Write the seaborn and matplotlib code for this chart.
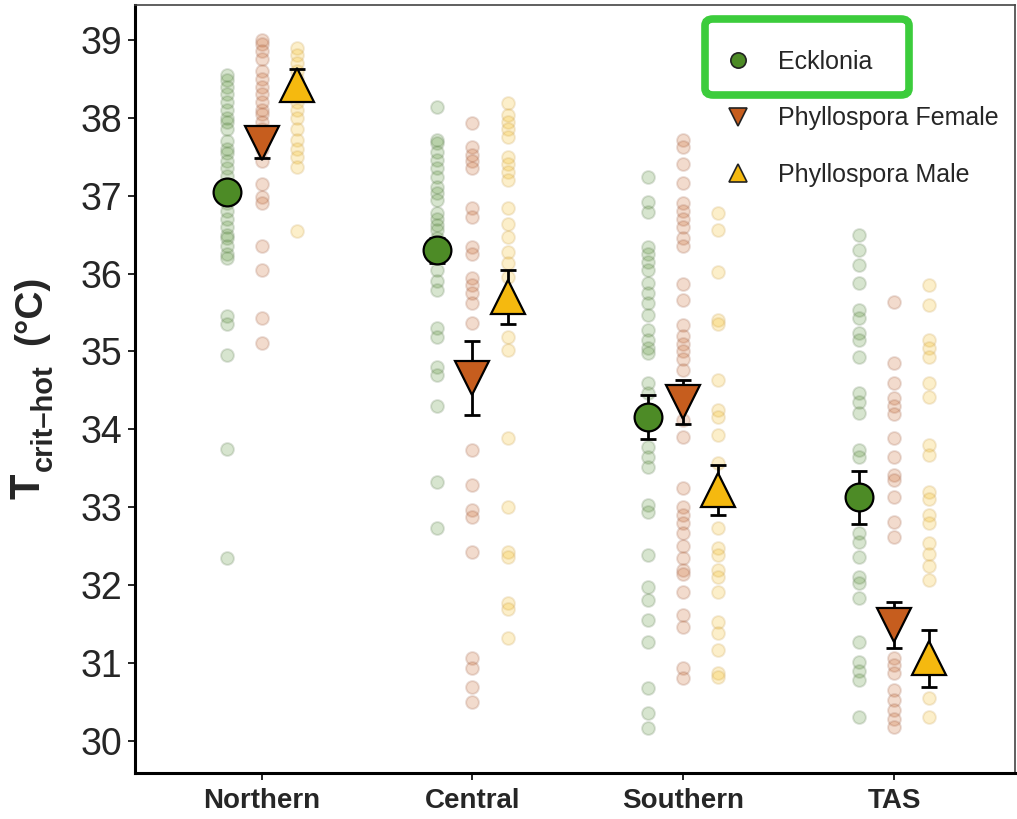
import pandas as pd
import numpy as np
import matplotlib
matplotlib.use('Agg')
import matplotlib.pyplot as plt
import seaborn as sns
from matplotlib.lines import Line2D
from matplotlib.patches import FancyBboxPatch

sns.set_style('ticks')
plt.rcParams['font.family'] = ['Liberation Sans', 'DejaVu Sans']

regions = ['Northern', 'Central', 'Southern', 'TAS']
species = ['Ecklonia', 'Phyllospora Female', 'Phyllospora Male']
colors = ['#4d8b26', '#c65d1e', '#f5b90f']
edge_colors = ['#5d7a50', '#a0624a', '#c9a050']
markers = ['o', 'v', '^']

eck_north = [38.55, 38.48, 38.4, 38.3, 38.2, 38.1, 38.0, 37.95, 37.85, 37.7, 37.6, 37.55,
             37.45, 37.35, 37.25, 37.15, 37.0, 36.9, 36.8, 36.7, 36.6, 36.5, 36.45, 36.35,
             36.25, 36.2, 35.45, 35.35, 34.95, 33.75, 32.35]
fem_north = [39.0, 38.95, 38.85, 38.75, 38.6, 38.5, 38.4, 38.3, 38.2, 38.1, 38.05, 37.95,
             37.85, 37.6, 37.45, 37.15, 36.98, 36.9, 36.35, 36.05, 35.43, 35.11]
male_north = [38.9, 38.8, 38.7, 38.6, 38.5, 38.4, 38.3, 38.2, 38.1, 38.0, 37.85, 37.72,
              37.6, 37.5, 37.37, 36.55]

eck_central = [38.14, 37.72, 37.68, 37.56, 37.46, 37.36, 37.24, 37.11, 37.04, 36.95, 36.78,
               36.7, 36.62, 36.56, 36.45, 36.35, 36.2, 36.05, 35.9, 35.79, 35.3, 35.19,
               34.8, 34.7, 34.3, 33.33, 32.74]
fem_central = [37.93, 37.62, 37.52, 37.45, 37.35, 36.84, 36.72, 36.34, 36.25, 35.94, 35.85,
               35.75, 35.62, 35.37, 33.74, 33.29, 32.97, 32.88, 32.43, 31.07, 30.94, 30.69, 30.5]
male_central = [38.19, 38.04, 37.95, 37.85, 37.75, 37.5, 37.4, 37.3, 37.2, 36.84, 36.63,
                36.47, 36.28, 36.14, 35.95, 35.19, 35.02, 33.89, 33.0, 32.43, 32.36, 31.77,
                31.7, 31.32]

eck_south = [37.24, 36.92, 36.79, 36.34, 36.25, 36.15, 36.05, 35.88, 35.75, 35.62, 35.47,
             35.28, 35.15, 35.05, 34.98, 34.6, 34.47, 33.78, 33.65, 33.52, 33.03, 32.94,
             32.39, 31.98, 31.81, 31.55, 31.27, 30.68, 30.36, 30.17]
fem_south = [37.72, 37.62, 37.4, 37.16, 36.91, 36.8, 36.7, 36.6, 36.45, 36.35, 35.86, 35.66,
             35.34, 35.2, 35.1, 35.0, 34.9, 34.76, 34.12, 33.9, 33.25, 33.0, 32.9, 32.8,
             32.67, 32.5, 32.35, 32.2, 32.15, 31.91, 31.62, 31.46, 30.94, 30.81]
male_south = [36.78, 36.56, 36.02, 35.41, 35.35, 34.64, 34.25, 34.16, 33.93, 33.57, 32.74,
              32.48, 32.39, 32.2, 32.1, 31.91, 31.53, 31.39, 31.17, 30.87, 30.82]

eck_tas = [36.5, 36.3, 36.11, 35.88, 35.53, 35.43, 35.24, 35.15, 34.93, 34.47, 34.35, 34.21,
           33.74, 33.65, 32.67, 32.55, 32.36, 32.11, 32.03, 31.84, 31.27, 31.02, 30.9,
           30.78, 30.31]
fem_tas = [35.64, 34.85, 34.6, 34.4, 34.3, 34.2, 33.89, 33.65, 33.42, 33.35, 33.13, 32.81,
           32.62, 31.07, 30.97, 30.87, 30.66, 30.53, 30.4, 30.28, 30.18]
male_tas = [35.85, 35.6, 35.15, 35.05, 34.93, 34.6, 34.42, 33.8, 33.67, 33.2, 33.1, 32.9,
            32.8, 32.54, 32.4, 32.25, 32.07, 30.55, 30.31]

# group means and standard errors
eck_mean = [37.05, 36.3, 34.16, 33.13]
eck_se = [0.12, 0.16, 0.28, 0.34]
fem_mean = [37.68, 34.66, 34.35, 31.49]
fem_se = [0.2, 0.47, 0.28, 0.3]
male_mean = [38.42, 35.7, 33.22, 31.06]
male_se = [0.2, 0.35, 0.32, 0.37]

raw = {
    'Ecklonia': [eck_north, eck_central, eck_south, eck_tas],
    'Phyllospora Female': [fem_north, fem_central, fem_south, fem_tas],
    'Phyllospora Male': [male_north, male_central, male_south, male_tas],
}
means = {'Ecklonia': (eck_mean, eck_se),
         'Phyllospora Female': (fem_mean, fem_se),
         'Phyllospora Male': (male_mean, male_se)}

offsets = [-0.166, 0.0, 0.166]

rows = []
for sp, off in zip(species, offsets):
    for i, reg in enumerate(regions):
        for v in raw[sp][i]:
            rows.append({'species': sp, 'region': reg, 'x': i + 1 + off, 'T': v})
df = pd.DataFrame(rows)

fig = plt.figure(figsize=(10.17, 8.19), dpi=100)
ax = fig.add_axes([0.1327, 0.0562, 0.865, 0.938])

# raw points, faint
for sp, c, ec in zip(species, colors, edge_colors):
    sns.scatterplot(data=df[df.species == sp], x='x', y='T', color=c, edgecolor=ec,
                    s=85, alpha=0.22, linewidth=1.4, legend=False, ax=ax)

# means +/- SE
for sp, off, c, m in zip(species, offsets, colors, markers):
    mu, se = means[sp]
    xs = np.arange(1, 5) + off
    ax.errorbar(xs, mu, yerr=se, fmt='none', ecolor='black', elinewidth=2,
                capsize=6, capthick=2, zorder=3)
    ms = 20 if m == 'o' else 25
    ax.plot(xs, mu, ls='', marker=m, ms=ms, mfc=c, mec='black', mew=1.6, zorder=4)

ax.set_xlim(0.4, 4.57)
ax.set_ylim(29.59, 39.45)
ax.set_xticks(range(1, 5))
ax.set_xticklabels(regions, fontsize=20, fontweight='bold')
ax.set_yticks(range(30, 40))
ax.tick_params(axis='y', labelsize=27, length=5, width=1.2, color='black', pad=4)
ax.tick_params(axis='x', length=5, width=1.2, color='black', pad=6)
ax.set_xlabel('')
ax.set_ylabel('')

# y label built from pieces: T, subscript, unit
W, H = 1017, 819
fig.text(39 / W, 1 - 499 / H, 'T', fontsize=30, fontweight='bold', rotation=90,
         rotation_mode='anchor', ha='left', va='baseline')
fig.text(52 / W, 1 - 418 / H, 'crit\u2013hot', fontsize=21, fontweight='bold', rotation=90,
         rotation_mode='anchor', ha='center', va='baseline')
fig.text(41 / W, 1 - 276 / H, '(°C)', fontsize=28, fontweight='bold', rotation=90,
         rotation_mode='anchor', ha='right', va='baseline')

for s in ['left', 'bottom']:
    ax.spines[s].set_linewidth(2.2)
    ax.spines[s].set_color('black')
for s in ['top', 'right']:
    ax.spines[s].set_linewidth(1.2)
    ax.spines[s].set_color('#444444')

handles = [Line2D([], [], ls='', marker=m, ms=11 if m == 'o' else 13, mfc=c, mec='#222222', mew=1.2)
           for m, c in zip(markers, colors)]
fig.legend(handles, species, loc='upper left', bbox_to_anchor=(726 / W, 1 - 50 / H),
           frameon=False, fontsize=18, handlelength=0.95, handletextpad=1.15,
           labelspacing=1.3, borderpad=0, borderaxespad=0)

box = FancyBboxPatch((705 / W, 1 - 95 / H), 204 / W, 76 / H,
                     boxstyle='round,pad=0,rounding_size=0.008', transform=fig.transFigure,
                     fc='none', ec='#3ccc3c', lw=5.5, zorder=10)
fig.patches.append(box)

fig.savefig('out.png', dpi=100)
